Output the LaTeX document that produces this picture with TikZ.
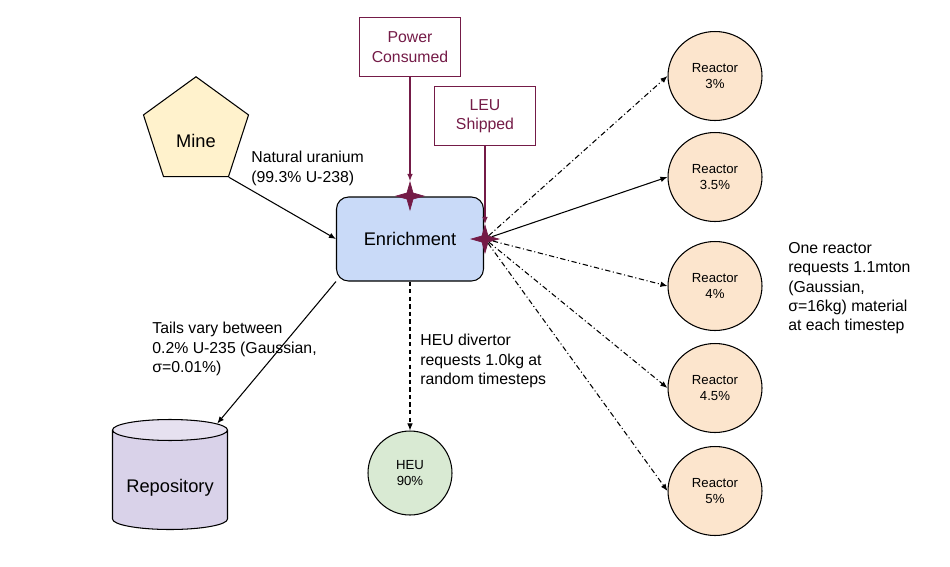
\documentclass[tikz,border=0pt]{standalone}
\usepackage{fontspec}
\setmainfont{Liberation Sans}
\usetikzlibrary{arrows.meta, positioning, shapes.geometric, calc}
\definecolor{plum}{HTML}{741B47}
\definecolor{enrichfill}{HTML}{C9DAF8}
\definecolor{minefill}{HTML}{FFF2CC}
\definecolor{repofill}{HTML}{D9D2E9}
\definecolor{repotop}{HTML}{E6E1F0}
\definecolor{heufill}{HTML}{D9EAD3}
\definecolor{reactfill}{HTML}{FCE5CD}
\tikzset{
  procbox/.style={
    draw=black, rounded corners=0.24cm, fill=enrichfill,
    minimum width=2.94cm, minimum height=1.68cm,
    font=\fontsize{10.4}{12.5}\selectfont, line width=0.6pt
  },
  minebox/.style={
    regular polygon, regular polygon sides=5, draw=black, fill=minefill,
    minimum size=2.21cm, inner sep=0pt, line width=0.6pt,
    text height=0.6cm, text depth=0cm,
    font=\fontsize{10.4}{12.5}\selectfont
  },
  repobox/.style={
    cylinder, shape border rotate=90, aspect=0.24, draw=black,
    cylinder uses custom fill, cylinder body fill=repofill, cylinder end fill=repotop,
    minimum width=2.3cm, minimum height=2.2cm, inner sep=0pt, line width=0.6pt,
    text height=0.5cm, text depth=0cm,
    font=\fontsize{10.4}{12.5}\selectfont
  },
  metricbox/.style={
    draw=plum, text=plum, minimum width=2.02cm, minimum height=1.18cm,
    font=\fontsize{9}{11}\selectfont, line width=0.6pt
  },
  reactor/.style={
    ellipse, draw=black, fill=#1, minimum width=1.88cm, minimum height=1.78cm,
    inner sep=0pt, font=\fontsize{7.5}{9}\selectfont, line width=0.6pt
  },
  reactor/.default=reactfill,
  pstar/.style={
    star, star points=4, star point ratio=3.2, minimum size=0.55cm,
    inner sep=0pt, fill=plum, draw=plum
  },
  note/.style={align=left, inner sep=0pt, anchor=north west, font=\fontsize{9}{11}\selectfont},
  darrow/.style={-{Latex[length=4pt, width=3.2pt]}, line width=0.6pt, color=black},
  reqarrow/.style={darrow, dash pattern=on 3pt off 1.5pt on 0.6pt off 1.5pt},
  plumarrow/.style={-{Latex[length=4pt, width=3.2pt]}, line width=0.6pt, color=plum}
}
\begin{document}
\begin{tikzpicture}[x=0.02cm, y=-0.02cm, every node/.style={align=center}]
    \useasboundingbox (0,0) rectangle (950,566);

    % Process chain
    \node[procbox] (enr) at (410,239) {Enrichment};
    \node[minebox] (mine) at (196,132) {Mine};
    \node[repobox] (repo) at (170,480) {Repository};
    \node[reactor=heufill, minimum width=1.68cm, minimum height=1.68cm] (heu) at (410,473) {HEU\\90\%};

    % Metrics
    \node[metricbox] (power) at (410,47) {Power\\Consumed};
    \node[metricbox] (leu) at (485,116) {LEU\\Shipped};
    \node[pstar] (powerstar) at (410,196) {};
    \node[pstar] (leustar) at (485,239) {};

    % Reactors
    \node[reactor] (r3) at (715,76) {Reactor\\3\%};
    \node[reactor] (r35) at (715,177) {Reactor\\3.5\%};
    \node[reactor] (r4) at (715,286) {Reactor\\4\%};
    \node[reactor] (r45) at (715,388) {Reactor\\4.5\%};
    \node[reactor] (r5) at (715,491) {Reactor\\5\%};

    % Notes
    \node[note] (natlbl) at (251,151) {Natural uranium\\(99.3\% U-238)};
    \node[note] (taillbl) at (152,322) {Tails vary between\\0.2\% U-235 (Gaussian,\\σ=0.01\%)};
    \node[note] (heulbl) at (420,334) {HEU divertor\\requests 1.0kg at\\random timesteps};
    \node[note] (reqlbl) at (788,242) {One reactor\\requests 1.1mton\\(Gaussian,\\σ=16kg) material\\at each timestep};

    % Flows
    \draw[darrow] (mine.corner 4) -- (enr.west);
    \draw[darrow] (enr.south west) -- (repo);
    \draw[darrow, dash pattern=on 2.5pt off 1.8pt] (enr.south) -- (heu.north);
    \draw[plumarrow] (power.south) -- (powerstar.north);
    \draw[plumarrow] (leu.south) -- (leustar.north);

    % Fan-out to reactors
    \draw[reqarrow] (leustar) -- (r3.west);
    \draw[darrow] (leustar) -- (r35.west);
    \draw[reqarrow] (leustar) -- (r4.west);
    \draw[reqarrow] (leustar) -- (r45.west);
    \draw[reqarrow] (leustar) -- (r5.west);
\end{tikzpicture}
\end{document}
